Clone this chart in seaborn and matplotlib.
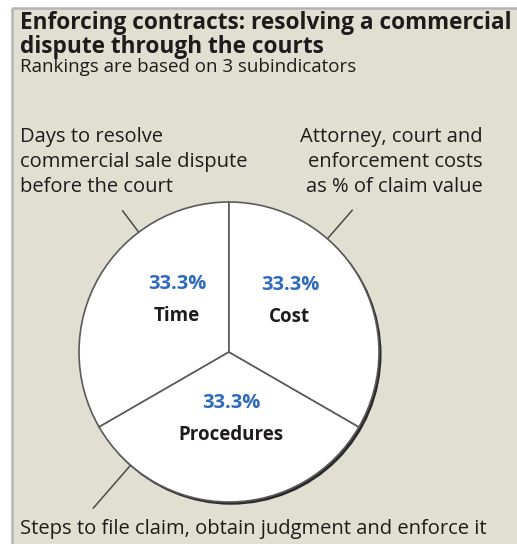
import matplotlib
matplotlib.use("Agg")
import matplotlib.pyplot as plt
import seaborn as sns
import numpy as np
from matplotlib.patches import Rectangle, Circle

sns.set_theme(style="white")
plt.rcParams['font.family'] = ['Open Sans', 'DejaVu Sans']

# ---- content ----
title_lines = ["Enforcing contracts: resolving a commercial",
               "dispute through the courts"]
subtitle = "Rankings are based on 3 subindicators"
components = ["Time", "Procedures", "Cost"]
weights = [33.3, 33.3, 33.3]
time_desc = ["Days to resolve", "commercial sale dispute", "before the court"]
cost_desc = ["Attorney, court and", "enforcement costs", "as % of claim value"]
procedures_desc = ["Steps to file claim, obtain judgment and enforce it"]

# ---- style ----
W, H = 517, 544
BG = "#e1ded2"
INK = "#1f1b1c"
BLUE = "#2f6bbd"
cx, cy, R = 229, H - 352, 150

fig = plt.figure(figsize=(W / 100, H / 100), dpi=100)
fig.patch.set_facecolor("white")
ax = fig.add_axes([0, 0, 1, 1])
ax.set_facecolor("none")

# panel background with border on top and left
ax.add_patch(Rectangle((12, -5), W, H - 8 + 5, facecolor=BG, edgecolor="none", zorder=0))
ax.plot([12, W + 5], [H - 8, H - 8], color="#b4b4b4", lw=1.8, zorder=0.5, solid_capstyle="butt")
ax.plot([12, 12], [-5, H - 8], color="#b4b4b4", lw=1.8, zorder=0.5, solid_capstyle="butt")

# shadow under the pie
ax.add_patch(Circle((cx + 2.0, cy - 2.2), R + 0.5, facecolor="#2a2a2a", edgecolor="none", zorder=1))

wedges, _ = ax.pie(weights, startangle=90, counterclock=True, center=(cx, cy), radius=R,
                   colors=["white"] * len(weights),
                   wedgeprops=dict(edgecolor="#5a5a5a", linewidth=1.2))
for w in wedges:
    w.set_zorder(2)

ax.set_xlim(0, W)
ax.set_ylim(0, H)
ax.set_aspect("equal", adjustable="box")
ax.axis("off")

# in-pie labels: (angle in degrees, distance in radii)
label_pos = {"Time": (135, 0.49), "Cost": (40, 0.53), "Procedures": (272, 0.45)}
for name, w in zip(components, weights):
    ang, dist = label_pos[name]
    x = cx + dist * R * np.cos(np.radians(ang))
    y = cy + dist * R * np.sin(np.radians(ang))
    ax.text(x, y + 16, f"{w:.1f}%", color=BLUE, fontsize=14.5, fontweight="bold",
            ha="center", va="center", zorder=3)
    ax.text(x, y - 16, name, color=INK, fontsize=13.5, fontweight="bold",
            ha="center", va="center", zorder=3)

# leader lines: (angle, inner radius, outer radius)
leaders = [(127, R, 177), (49, R, 188), (229, R, 207)]
for ang, r0, r1 in leaders:
    a = np.radians(ang)
    ax.plot([cx + r0 * np.cos(a), cx + r1 * np.cos(a)],
            [cy + r0 * np.sin(a), cy + r1 * np.sin(a)],
            color="#4a4a4a", lw=1.1, zorder=1.5)

# title and subtitle
ax.text(20, H - 29, title_lines[0], fontsize=16.3, fontweight="bold", color=INK, va="baseline", ha="left")
ax.text(20, H - 53, title_lines[1], fontsize=16.3, fontweight="bold", color=INK, va="baseline", ha="left")
ax.text(20, H - 72, subtitle, fontsize=13.5, color=INK, va="baseline", ha="left")

# component descriptions
for i, line in enumerate(time_desc):
    ax.text(20, H - (142 + 25 * i), line, fontsize=14.5, color=INK, va="baseline", ha="left")
for i, line in enumerate(cost_desc):
    ax.text(483, H - (142 + 25 * i), line, fontsize=14.5, color=INK, va="baseline", ha="right")
ax.text(20, H - 534, procedures_desc[0], fontsize=14.5, color=INK, va="baseline", ha="left")

fig.savefig("out.png", dpi=100, facecolor=fig.get_facecolor())
